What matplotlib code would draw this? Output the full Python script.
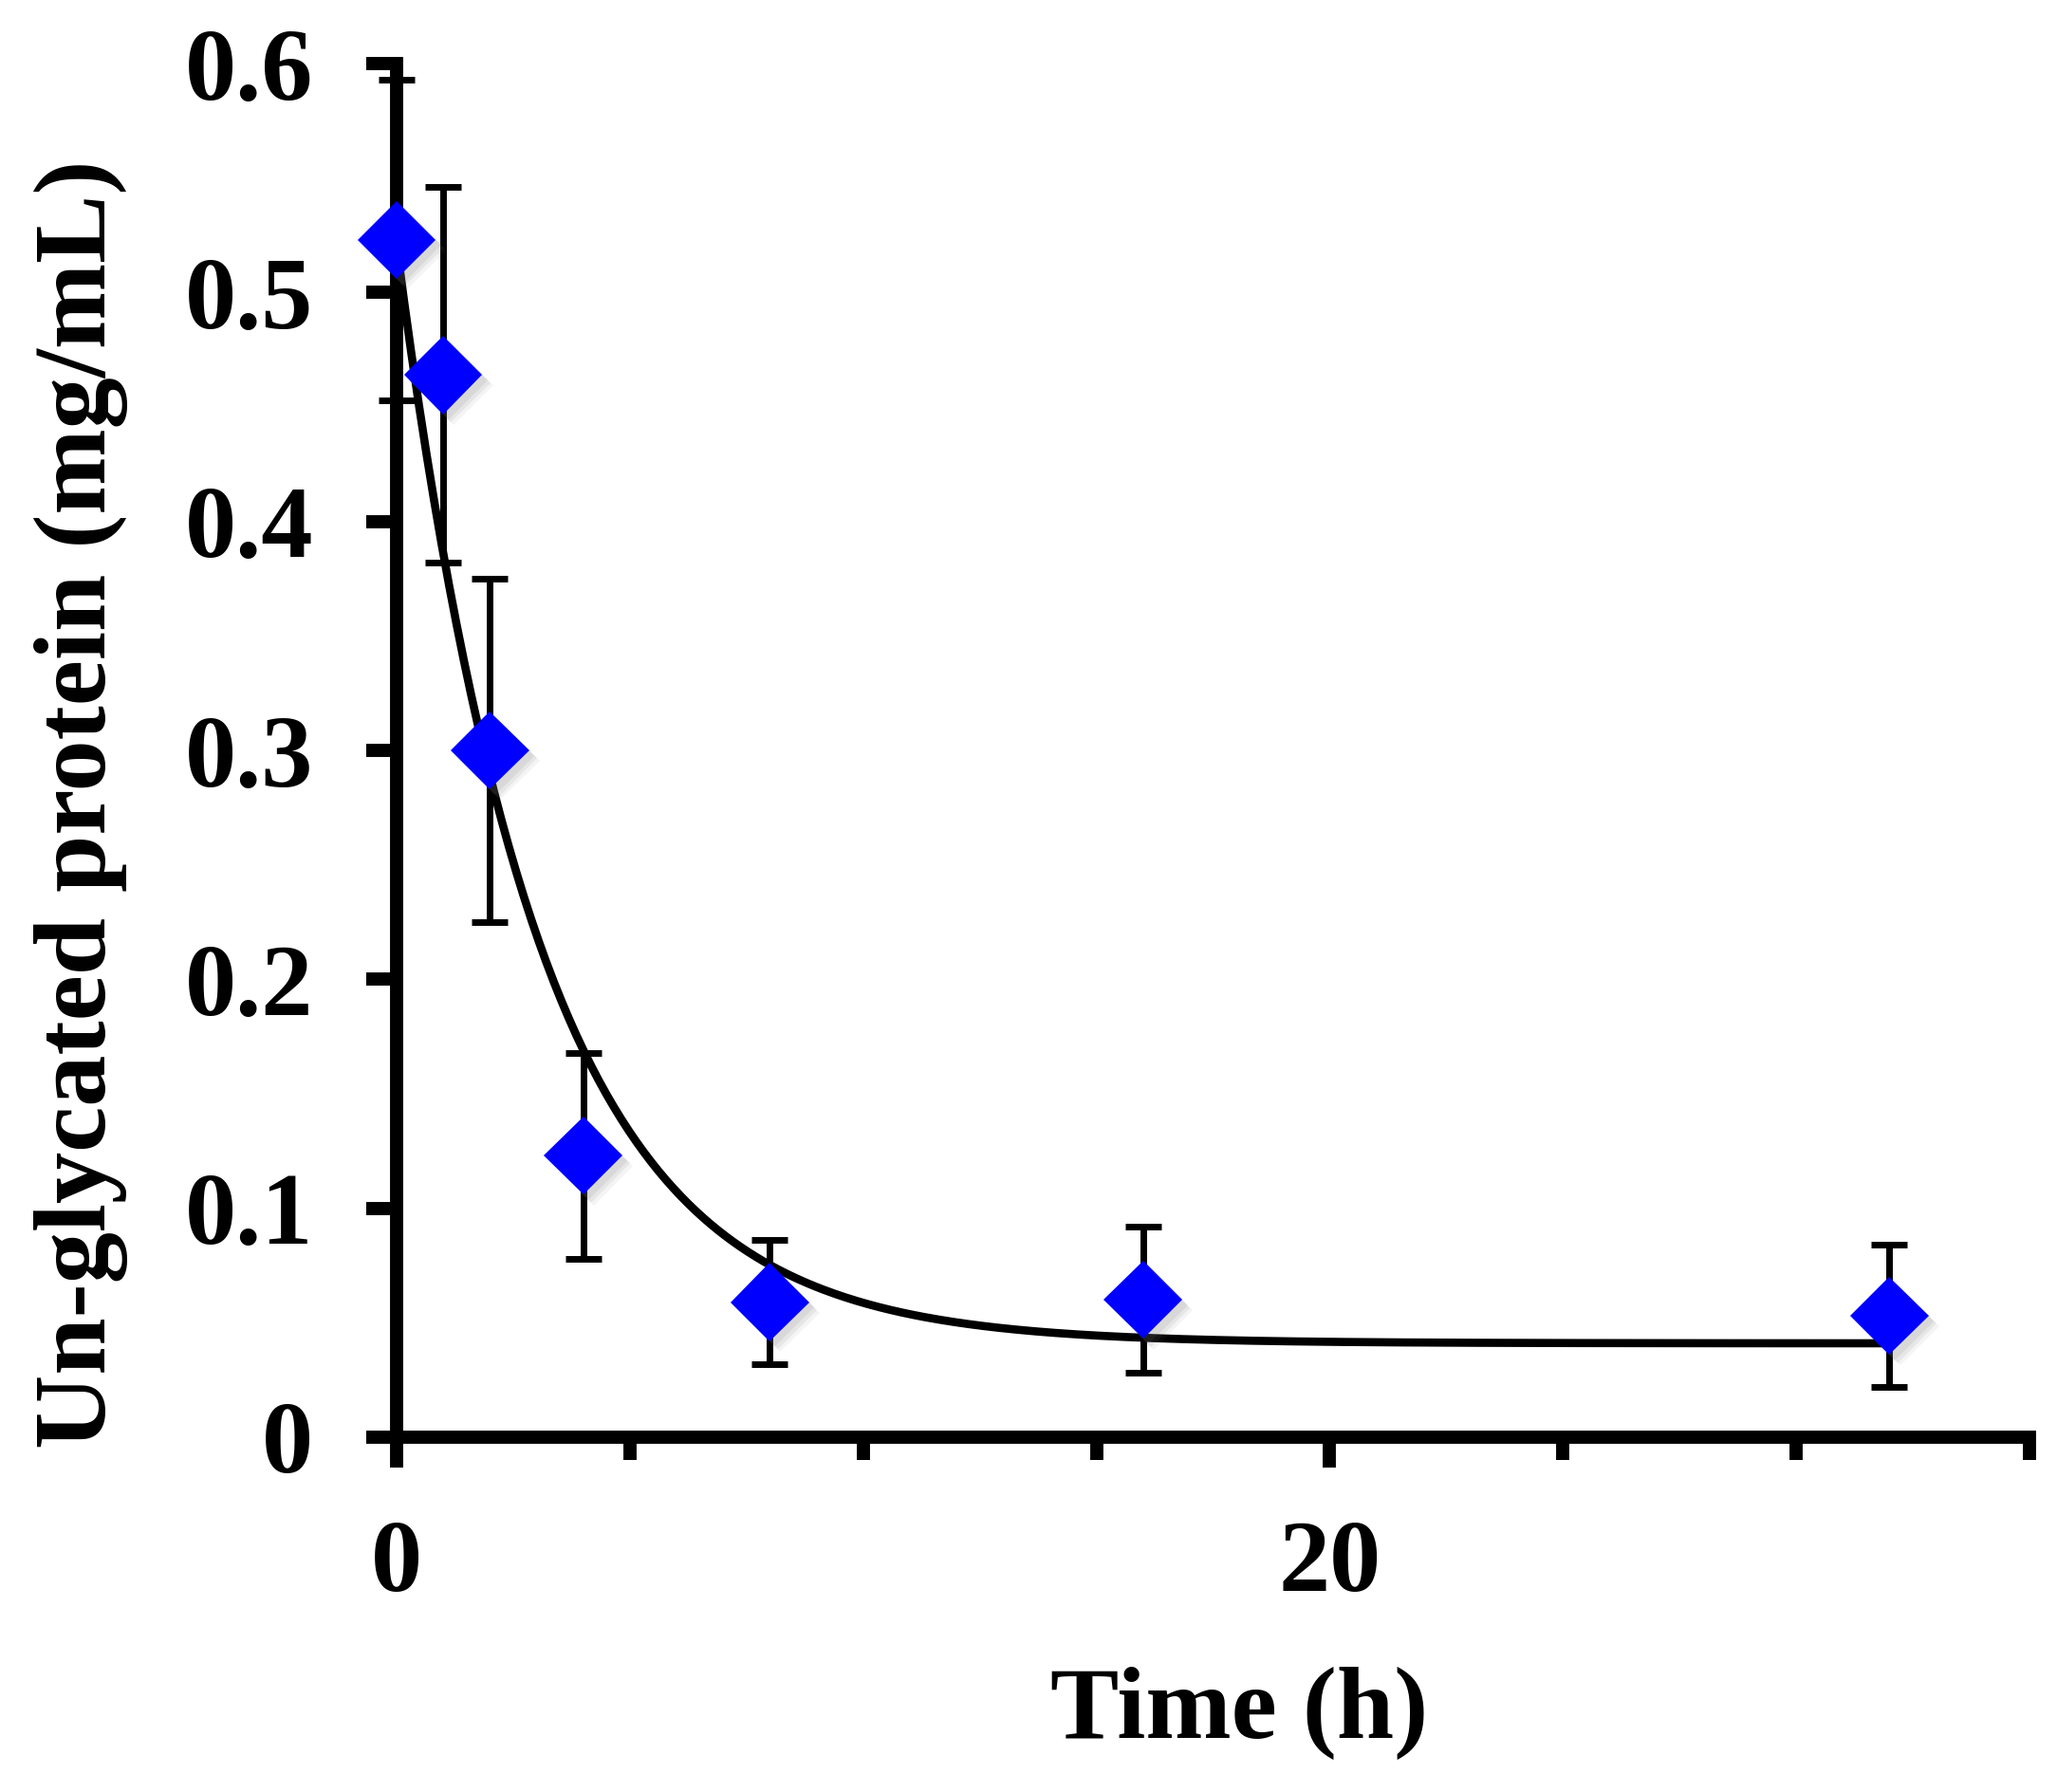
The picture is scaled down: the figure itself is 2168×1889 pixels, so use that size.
import numpy as np
import matplotlib
matplotlib.use("Agg")
import matplotlib.pyplot as plt
from matplotlib.ticker import MultipleLocator
import matplotlib.patheffects as pe

# Data
time_h = [0, 1, 2, 4, 8, 16, 32]
protein = [0.523, 0.464, 0.300, 0.123, 0.059, 0.060, 0.053]
protein_err = [0.070, 0.082, 0.075, 0.045, 0.027, 0.032, 0.031]

# Fitted exponential decay (parameters)
fit_A = 0.48
fit_k = 0.33
fit_C = 0.041
fit_t_end = 32

x_major = [0, 20]
y_ticks = [0, 0.1, 0.2, 0.3, 0.4, 0.5, 0.6]
y_ticklabels = ["0", "0.1", "0.2", "0.3", "0.4", "0.5", "0.6"]

plt.rcParams['font.family'] = ['Liberation Serif', 'DejaVu Serif']
plt.rcParams['font.weight'] = 'bold'

fig = plt.figure(figsize=(10.84, 9.445), dpi=200)
ax = fig.add_axes([0.1928, 0.198, 0.9866 - 0.1928, 0.9645 - 0.198])

ax.errorbar(time_h, protein, yerr=protein_err, fmt='none', ecolor='black',
            elinewidth=2.5, capsize=7, capthick=2.5, zorder=3, clip_on=False)

tt = np.linspace(0, fit_t_end, 400)
ax.plot(tt, fit_A * np.exp(-fit_k * tt) + fit_C, color='black', lw=3.1, zorder=4,
        solid_capstyle='butt')

shadows = [pe.SimplePatchShadow(offset=(o, -o), shadow_rgbFace='0.45', alpha=a)
           for o, a in [(4.0, 0.08), (3.0, 0.10), (2.0, 0.12)]]
ax.plot(time_h, protein, linestyle='none', marker='D', markersize=21,
        markerfacecolor='#0000ff', markeredgecolor='#0000ff', markeredgewidth=0,
        zorder=5, clip_on=False,
        path_effects=shadows + [pe.Normal()])

ax.set_xlim(0, 35)
ax.set_ylim(0, 0.6)
ax.xaxis.set_major_locator(MultipleLocator(20))
ax.xaxis.set_minor_locator(MultipleLocator(5))
ax.set_xticks(x_major)
ax.set_xticklabels([str(v) for v in x_major])
ax.set_yticks(y_ticks)
ax.set_yticklabels(y_ticklabels)

for side in ['top', 'right']:
    ax.spines[side].set_visible(False)
for side in ['left', 'bottom']:
    ax.spines[side].set_linewidth(5)
    ax.spines[side].set_capstyle('projecting')

ax.tick_params(axis='both', which='major', direction='out', length=11.5, width=5,
               labelsize=39, pad=20)
ax.tick_params(axis='x', which='minor', direction='out', length=8.5, width=5)
ax.tick_params(axis='y', which='minor', left=False)

for lab in ax.get_xticklabels() + ax.get_yticklabels():
    lab.set_fontweight('bold')

ax.set_xlabel('Time (h)', fontsize=39, fontweight='bold')
ax.xaxis.set_label_coords(0.516, -0.201)
ax.xaxis.label.set_verticalalignment('center')

ax.set_ylabel('Un-glycated protein (mg/mL)', fontsize=39, fontweight='bold')
ax.yaxis.set_label_coords(-0.193, 0.461)
ax.yaxis.label.set_verticalalignment('center')

fig.savefig('out.png', dpi=200, facecolor='white')
